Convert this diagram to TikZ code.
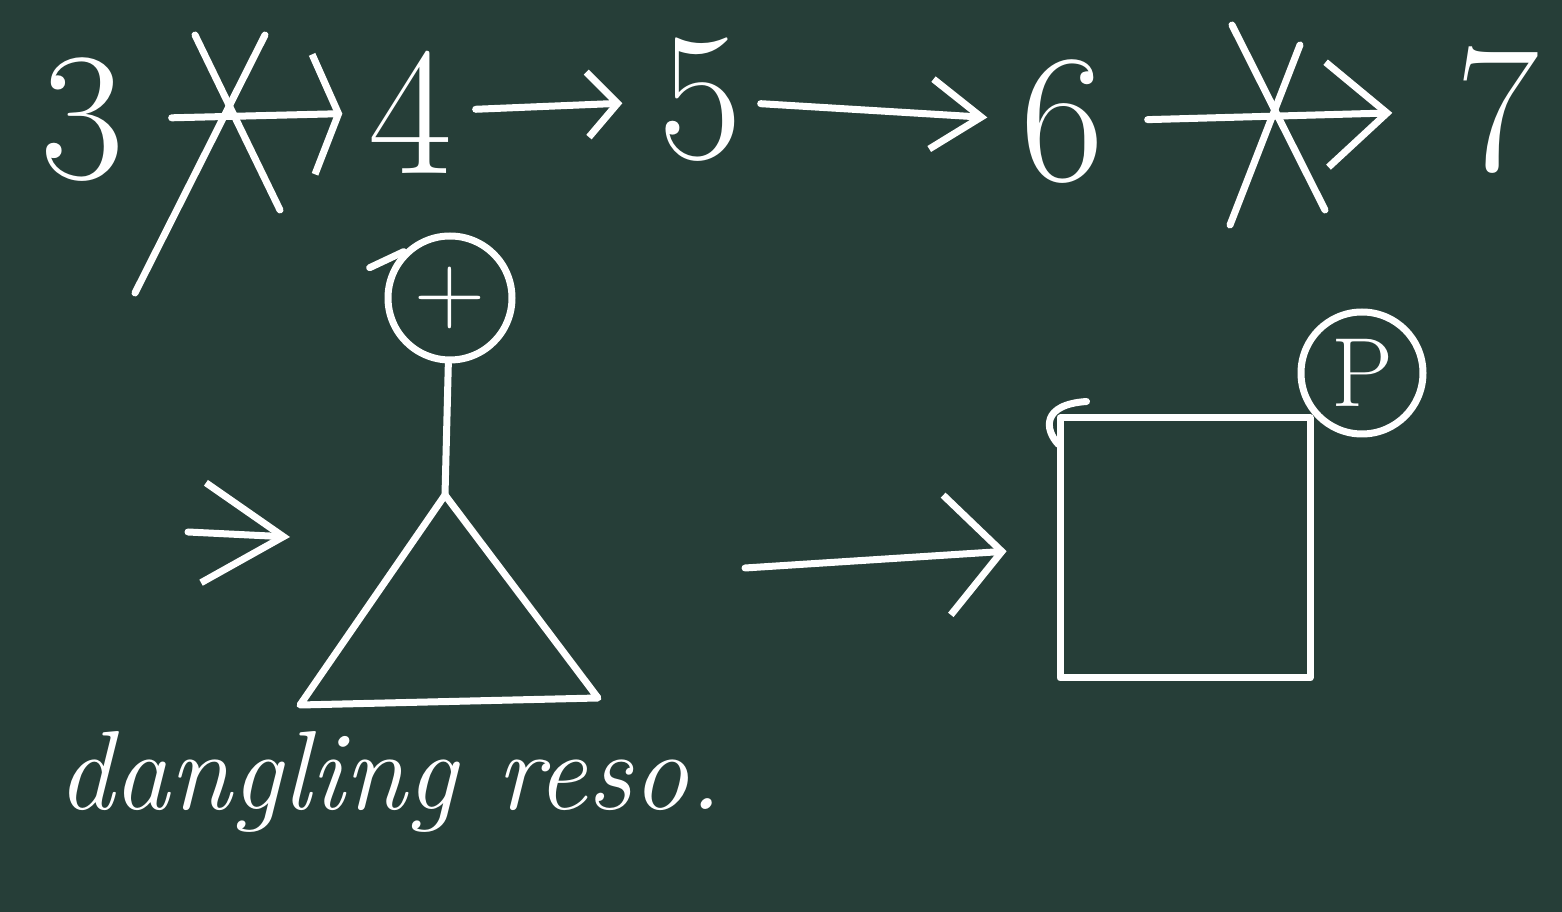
\documentclass[tikz,border=0pt]{standalone}
\usepackage{fontspec}
\usetikzlibrary{positioning,arrows.meta,calc}
\definecolor{board}{HTML}{263E38}

\begin{document}
\begin{tikzpicture}[
  x=0.1mm, y=-0.1mm,
  chalk/.style={draw=white, line width=0.7mm, line cap=round, line join=round},
  arr/.style={chalk, -{Straight Barb[length=5mm, width=8mm]}},
  num/.style={text=white, font=\fontsize{52}{56}\selectfont, inner sep=2pt},
  atom/.style={chalk, circle, text=white, font=\fontsize{28}{30}\selectfont, inner sep=0pt},
  lbl/.style={text=white, font=\fontsize{32}{34}\selectfont\itshape},
]
\fill[board] (0,0) rectangle (1562,912);
\useasboundingbox (0,0) rectangle (1562,912);

% ---- top row: the chain 3 ... 7 ----
\node[num] (n3) at (82,120)   {3};
\node[num] (n4) at (410,112)  {4};
\node[num] (n5) at (700,100)  {5};
\node[num] (n6) at (1062,122) {6};
\node[num] (n7) at (1497,110) {7};

\draw[arr, -{Straight Barb[length=2.5mm, width=12mm]}, shorten <=4mm, shorten >=1.8mm] (n3) -- (n4);
\draw[arr, -{Straight Barb[length=3mm, width=6.5mm]}, shorten <=1.6mm, shorten >=2.8mm] (n4) -- (n5);
\draw[arr, -{Straight Barb[length=5mm, width=7mm]}, shorten <=1.1mm, shorten >=2.5mm] (n5) -- (n6);
\draw[arr, -{Straight Barb[length=6mm, width=10.5mm]}, shorten <=3.6mm, shorten >=5.5mm] (n6) -- (n7);

% crossed out steps
\draw[chalk] (195,35) -- (280,210);
\draw[chalk] (265,35) -- (135,293);
\draw[chalk] (1232,25) -- (1325,210);
\draw[chalk] (1300,45) -- (1230,225);

% ---- left: triangle with charged atom ----
\node[atom, minimum size=12.4mm] (plus) at (450,298) {+};
\draw[chalk] ([shift={(-34,16)}]plus.north west) -- (plus.north west);
\coordinate (apex) at (445,495);
\draw[chalk] (plus) -- (apex);
\draw[chalk] (apex) -- (300,705) -- (598,698) -- cycle;

\coordinate (in0) at (188,532);
\coordinate (in1) at (290,537);
\draw[arr, -{Straight Barb[length=8mm, width=10mm]}] (in0) -- (in1);

% ---- right: square with charged atom ----
\node[chalk, minimum width=25mm, minimum height=26mm] (sq) at (1185,548) {};
\draw[chalk] ([shift={(30,-13)}]sq.north west) .. controls ([shift={(-15,-10)}]sq.north west)
      and ([shift={(-12,15)}]sq.north west) .. ([shift={(2,30)}]sq.north west);
\node[atom, minimum size=12.2mm] (pc) at (1362,373) {P};

\coordinate (out0) at (745,568);
\draw[arr, -{Straight Barb[length=5.5mm, width=12mm]}, shorten >=5mm] (out0) -- (sq.west);

% ---- note ----
\node[lbl, anchor=base west] (note) at (45,810) {dangling reso.};
\end{tikzpicture}
\end{document}
